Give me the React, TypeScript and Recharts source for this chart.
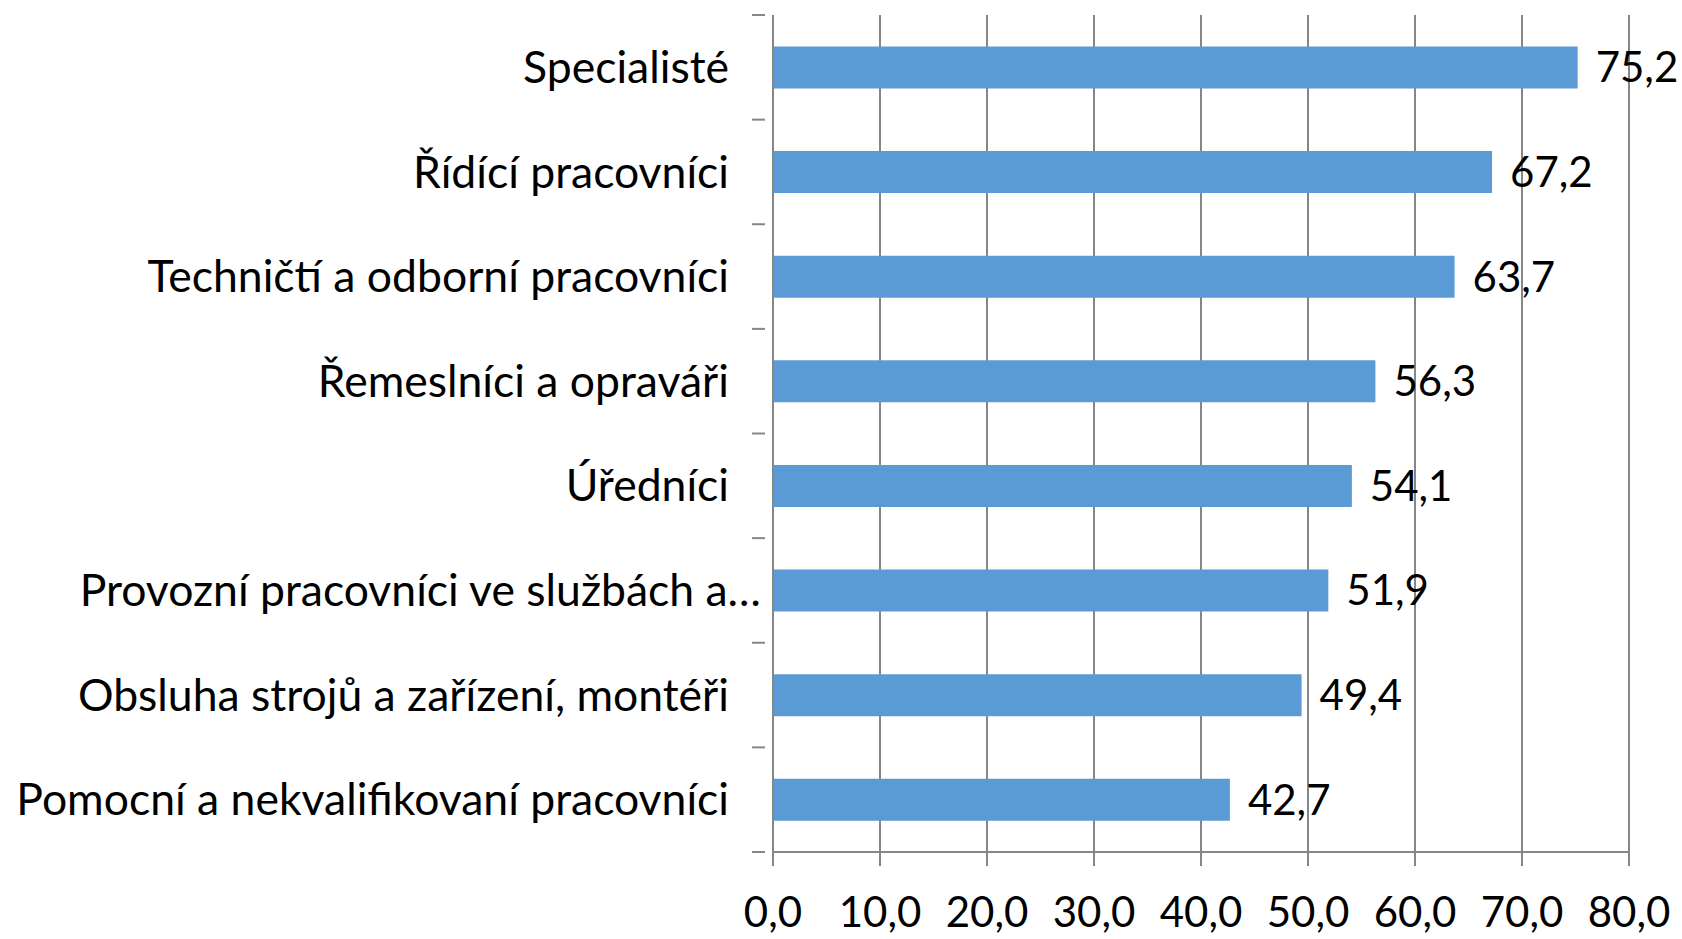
import { BarChart, Bar, XAxis, YAxis, CartesianGrid, LabelList } from "recharts";

const categories = [
  "Specialisté",
  "Řídící pracovníci",
  "Techničtí a odborní pracovníci",
  "Řemeslníci a opraváři",
  "Úředníci",
  "Provozní pracovníci ve službách a…",
  "Obsluha strojů a zařízení, montéři",
  "Pomocní a nekvalifikovaní pracovníci",
];
const values = [75.2, 67.2, 63.7, 56.3, 54.1, 51.9, 49.4, 42.7];
const xTicks = [0, 10, 20, 30, 40, 50, 60, 70, 80];

const data = categories.map((name, i) => ({ name, value: values[i] }));

const GRID = "#868686";
const FONT = "Lato, 'Open Sans', sans-serif";
const fmt = (v: number) => v.toFixed(1).replace(".", ",");

function CategoryTick(props: any) {
  const { x, y, payload, index } = props;
  const half = payload.offset ?? 52.3;
  const text: string = payload.value;
  const truncated = text.endsWith("…");
  return (
    <g>
      <line x1={x - 13} x2={x} y1={y - half} y2={y - half} stroke={GRID} strokeWidth={2} />
      {index === categories.length - 1 && (
        <line x1={x - 13} x2={x} y1={y + half} y2={y + half} stroke={GRID} strokeWidth={2} />
      )}
      <text
        x={truncated ? x - 4 : x - 36}
        y={y}
        dy="0.35em"
        textAnchor="end"
        fontSize={44.5}
        fontFamily={FONT}
        fill="#000"
      >
        {text}
      </text>
    </g>
  );
}

export default function App() {
  return (
    <div style={{ width: 1682, height: 939, background: "#fff" }}>
      <style>{"body{margin:0}"}</style>
      <BarChart
        width={1682}
        height={939}
        data={data}
        layout="vertical"
        margin={{ top: 15, right: 53, bottom: 0, left: 0 }}
        barCategoryGap="30%"
      >
        <CartesianGrid horizontal={false} stroke={GRID} strokeWidth={2} />
        <XAxis
          type="number"
          domain={[0, 80]}
          ticks={xTicks}
          tickFormatter={fmt}
          axisLine={{ stroke: GRID, strokeWidth: 2 }}
          tickLine={{ stroke: GRID, strokeWidth: 2 }}
          tickSize={14}
          tickMargin={31}
          tick={{ fontSize: 42, fontFamily: FONT, fill: "#000" }}
          height={87}
          interval={0}
        />
        <YAxis
          type="category"
          dataKey="name"
          width={773}
          axisLine={{ stroke: GRID, strokeWidth: 2 }}
          tickLine={false}
          tick={<CategoryTick />}
          interval={0}
        />
        <Bar dataKey="value" fill="#5B9BD5" isAnimationActive={false}>
          <LabelList
            dataKey="value"
            position="right"
            offset={18}
            formatter={(v: any) => fmt(Number(v))}
            style={{ fontSize: 42, fontFamily: FONT, fill: "#000" }}
          />
        </Bar>
      </BarChart>
    </div>
  );
}
